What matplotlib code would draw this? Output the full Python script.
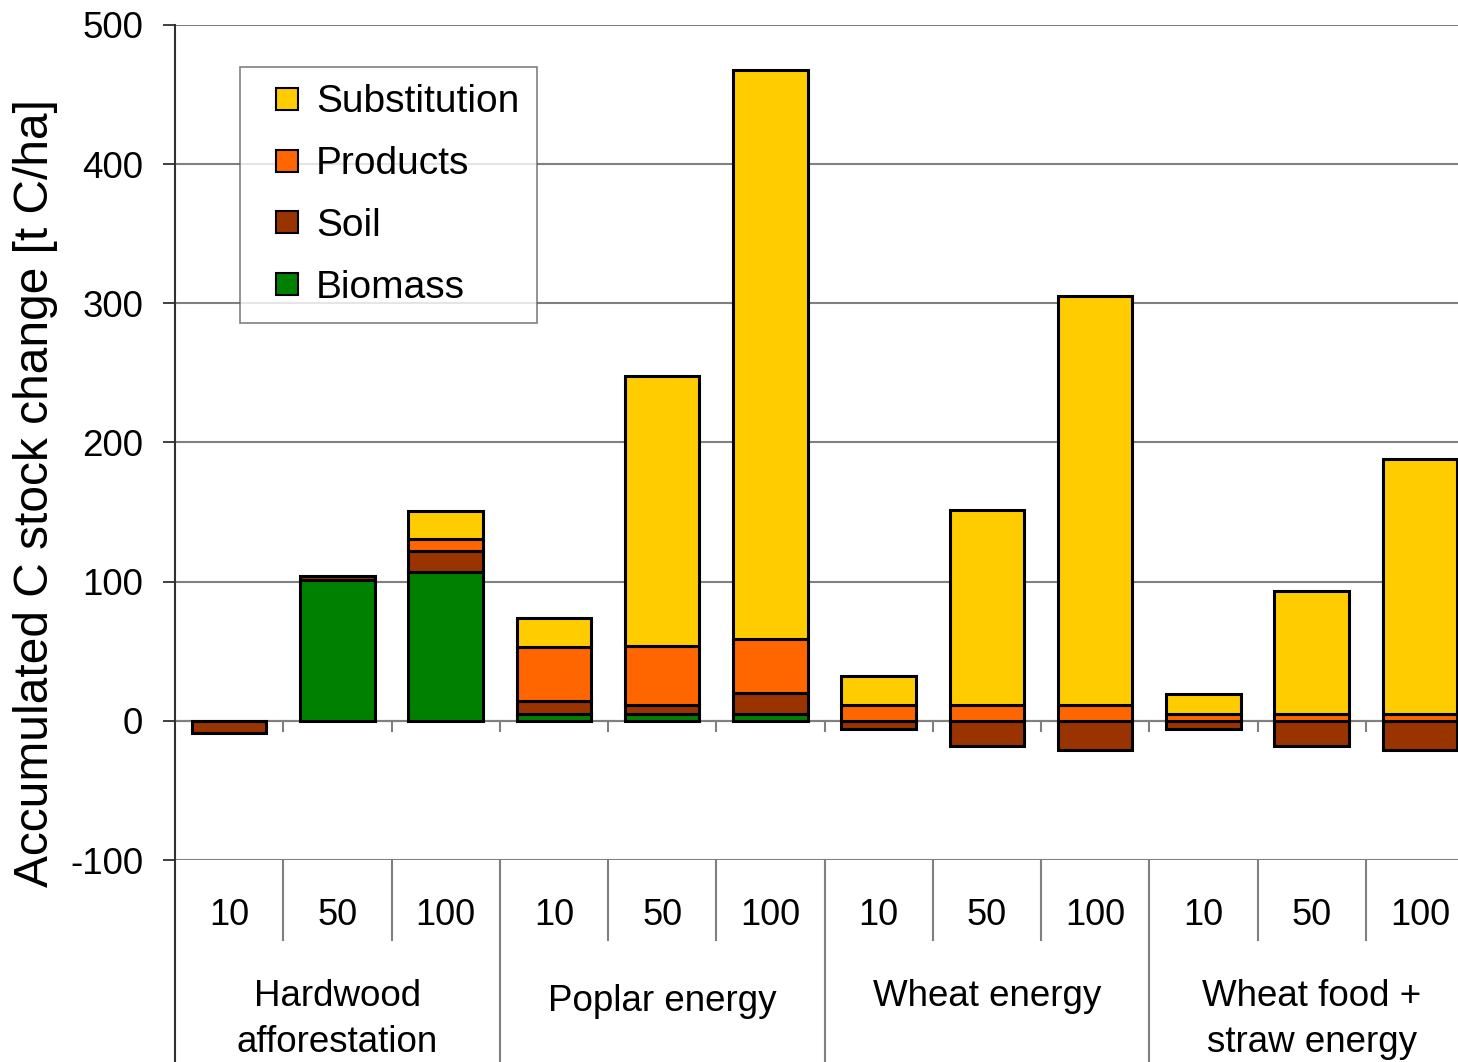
import matplotlib
matplotlib.use("Agg")
import matplotlib.pyplot as plt
import matplotlib.transforms as mtransforms
from matplotlib.lines import Line2D
import numpy as np

plt.rcParams['font.family'] = ['Liberation Sans', 'DejaVu Sans']
plt.rcParams['axes.unicode_minus'] = False

groups = ["Hardwood\nafforestation", "Poplar energy", "Wheat energy", "Wheat food +\nstraw energy"]
years = ["10", "50", "100"]

biomass =      [0,   101, 107, 5,  5,   5,   0,  0,   0,   0,  0,   0]
soil =         [-9,  3,   15,  9,  6.5, 15,  -6, -18, -21, -6, -18, -21]
products =     [0,   0,   9,   39, 42,  39,  11.5, 11.5, 11.5, 5, 5, 5]
substitution = [0,   0,   20,  21, 194, 409, 21, 140, 294, 14, 88, 183]

series = [("Biomass", biomass, "#008000"),
          ("Soil", soil, "#993300"),
          ("Products", products, "#FF6600"),
          ("Substitution", substitution, "#FFCC00")]

W, H = 1458, 1062
fig = plt.figure(figsize=(W / 100, H / 100), dpi=100)
x0, x1, ytop, ybot = 175, 1474, 25, 860
ax = fig.add_axes([x0 / W, (H - ybot) / H, (x1 - x0) / W, (ybot - ytop) / H])

n = len(biomass)
x = np.arange(n)
pos_bottom = np.zeros(n)
neg_bottom = np.zeros(n)
for name, vals, col in series:
    v = np.array(vals, dtype=float)
    bottoms = np.where(v >= 0, pos_bottom, neg_bottom)
    mask = v != 0
    ax.bar(x[mask], v[mask], bottom=bottoms[mask], width=0.69, color=col,
           edgecolor="black", linewidth=2.2, zorder=3)
    pos_bottom += np.where(v > 0, v, 0)
    neg_bottom += np.where(v < 0, v, 0)

ax.set_xlim(-0.5, n - 0.5)
ax.set_ylim(-100, 500)
ax.set_yticks([-100, 0, 100, 200, 300, 400, 500])
ax.yaxis.grid(True, color="#808080", linewidth=1.5, zorder=0)
ax.set_axisbelow(True)
ax.axhline(0, color="#808080", linewidth=1.5, zorder=2)
for s in ["top", "right", "bottom"]:
    ax.spines[s].set_visible(False)
ax.spines["left"].set_color("#303030")
ax.spines["left"].set_linewidth(1.5)
ax.tick_params(axis="y", direction="out", length=9, width=1.3, color="#303030",
               labelsize=26.5, pad=14)
ax.set_xticks([])
ax.set_ylabel("Accumulated C stock change [t C/ha]", fontsize=34.5)
ax.yaxis.set_label_coords((58 - x0) / (x1 - x0), 0.44)

trans = mtransforms.blended_transform_factory(ax.transData, ax.transAxes)
# extend left spine downward
ax.plot([-0.5, -0.5], [0, -0.25], transform=trans, color="#303030", lw=1.5, clip_on=False)
# ticks at zero line between categories
for b in np.arange(0.5, n - 0.5, 1.0):
    ax.plot([b, b], [0, -7], color="#808080", lw=1.5, zorder=2)
# separators below
for b in np.arange(0.5, n - 0.5, 1.0):
    if int(round(b + 0.5)) % 3 == 0:
        ax.plot([b, b], [0, -0.25], transform=trans, color="#808080", lw=1.5, clip_on=False)
    else:
        ax.plot([b, b], [0, -0.096], transform=trans, color="#808080", lw=1.5, clip_on=False)

for i in range(n):
    ax.text(i, -0.067, years[i % 3], transform=trans, ha="center", va="center", fontsize=26)
group_y = [-0.191, -0.169, -0.163, -0.191]
for g, name in enumerate(groups):
    ax.text(3 * g + 1, group_y[g], name, transform=trans, ha="center", va="center",
            fontsize=26.5, linespacing=1.4)

handles = [Line2D([], [], linestyle="none", marker="s", markersize=16.5,
                  markerfacecolor=c, markeredgecolor="black", markeredgewidth=1.5, label=nm)
           for nm, _, c in series[::-1]]
leg = ax.legend(handles=handles, loc="upper left",
                bbox_to_anchor=((240 - x0) / (x1 - x0), (ybot - 67) / (ybot - ytop)),
                fontsize=28, frameon=True, fancybox=False, edgecolor="#606060",
                handlelength=1.5, handletextpad=0.0,
                labelspacing=0.66, borderpad=0.45, borderaxespad=0)
leg.get_frame().set_linewidth(1.2)

fig.savefig("out.png", dpi=100)
